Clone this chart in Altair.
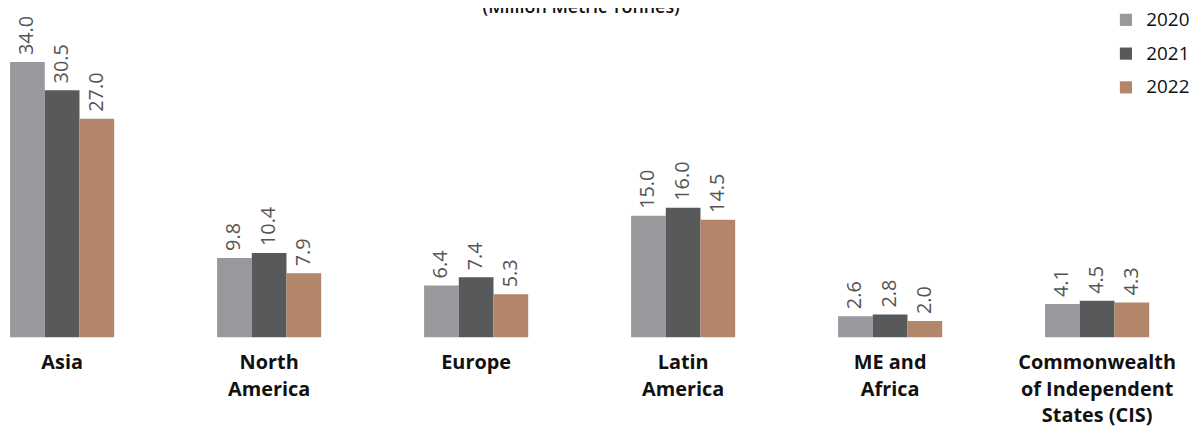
import altair as alt
import pandas as pd

categories = ["Asia", "North|America", "Europe", "Latin|America", "ME and|Africa",
              "Commonwealth|of Independent|States (CIS)"]
years = ["2020", "2021", "2022"]
v2020 = [34.0, 9.8, 6.4, 15.0, 2.6, 4.1]
v2021 = [30.5, 10.4, 7.4, 16.0, 2.8, 4.5]
v2022 = [27.0, 7.9, 5.3, 14.5, 2.0, 4.3]
colors = ["#98999d", "#58595b", "#b3856a"]
title_text = "(Million Metric Tonnes)"

rows = []
for i, c in enumerate(categories):
    for y, vals in zip(years, [v2020, v2021, v2022]):
        rows.append({"region": c, "year": y, "value": vals[i]})
df = pd.DataFrame(rows)

FONT = "Open Sans"

base = alt.Chart(df).encode(
    x=alt.X("region:N", sort=categories, title=None,
            scale=alt.Scale(paddingInner=0.497, paddingOuter=0.01),
            axis=alt.Axis(labelExpr="split(datum.label, '|')", labelAngle=0,
                          domain=False, ticks=False, labelPadding=16,
                          labelFont=FONT, labelFontSize=20, labelFontWeight="bold",
                          labelColor="#111111", labelLineHeight=26.5,
                          labelBaseline="top")),
    xOffset=alt.XOffset("year:N", sort=years),
    y=alt.Y("value:Q", scale=alt.Scale(domain=[0, 34], nice=False, zero=True),
            axis=None),
)

bars = base.mark_bar().encode(
    color=alt.Color("year:N", sort=years,
                    scale=alt.Scale(domain=years, range=colors),
                    legend=alt.Legend(title=None, orient="none", legendX=1116, legendY=-52,
                                      symbolType="square", symbolSize=150,
                                      symbolStrokeWidth=0, labelFont=FONT,
                                      labelFontSize=19, labelColor="#111111",
                                      rowPadding=14, labelOffset=11))
)

labels = base.mark_text(angle=270, align="left", baseline="middle", dx=7,
                        font=FONT, fontSize=20, color="#555555").encode(
    text=alt.Text("value:Q", format=".1f")
)

title = alt.Chart(pd.DataFrame({"t": [title_text]})).mark_text(
    font=FONT, fontSize=18, fontWeight=600, color="#111111",
    align="center", baseline="alphabetic").encode(
    text="t:N", x=alt.value(577), y=alt.value(-49))

chart = alt.layer(bars, labels, title).properties(
    width=1151, height=277,
    padding={"left": 0, "top": 53, "right": 40, "bottom": 88},
    autosize=alt.AutoSizeParams(type="none"),
).configure_view(stroke=None)

chart.save("out.html", embed_options={"renderer": "svg", "actions": False})
